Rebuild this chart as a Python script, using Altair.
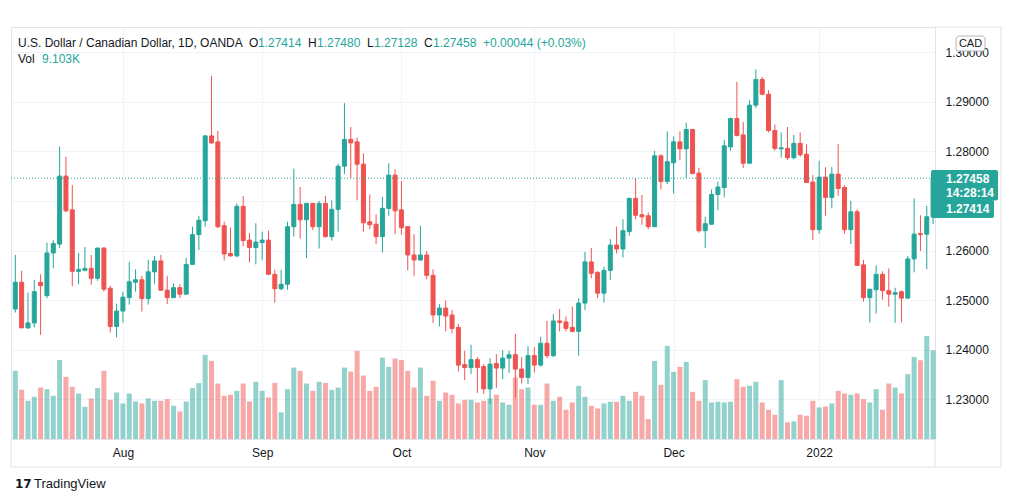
import altair as alt
import pandas as pd

# ---------------- data ----------------
opens = [1.2482, 1.2536, 1.2444, 1.2454, 1.2536, 1.2509, 1.2595, 1.2613, 1.2750, 1.2682,
         1.2558, 1.2560, 1.2564, 1.2544, 1.2605, 1.2524, 1.2447, 1.2478, 1.2505, 1.2536,
         1.2541, 1.2503, 1.2557, 1.2579, 1.2520, 1.2505, 1.2525, 1.2512, 1.2572, 1.2632,
         1.2660, 1.2831, 1.2819, 1.2650, 1.2594, 1.2589, 1.2689, 1.2621, 1.2606, 1.2616,
         1.2621, 1.2552, 1.2523, 1.2532, 1.2648, 1.2693, 1.2662, 1.2695, 1.2648, 1.2695,
         1.2628, 1.2683, 1.2770, 1.2824, 1.2819, 1.2774, 1.2658, 1.2653, 1.2628, 1.2685,
         1.2752, 1.2682, 1.2648, 1.2591, 1.2581, 1.2591, 1.2550, 1.2470, 1.2484, 1.2470,
         1.2445, 1.2370, 1.2364, 1.2380, 1.2366, 1.2321, 1.2372, 1.2363, 1.2383, 1.2390,
         1.2361, 1.2344, 1.2388, 1.2369, 1.2413, 1.2388, 1.2458, 1.2456, 1.2445, 1.2437,
         1.2494, 1.2577, 1.2556, 1.2514, 1.2560, 1.2611, 1.2603, 1.2638, 1.2705, 1.2672,
         1.2670, 1.2648, 1.2791, 1.2739, 1.2777, 1.2819, 1.2805, 1.2844, 1.2756, 1.2640,
         1.2653, 1.2713, 1.2727, 1.2809, 1.2866, 1.2833, 1.2776, 1.2893, 1.2945, 1.2915,
         1.2842, 1.2805, 1.2806, 1.2787, 1.2816, 1.2794, 1.2738, 1.2642, 1.2748, 1.2707,
         1.2754, 1.2727, 1.2642, 1.2678, 1.2571, 1.2505, 1.2521, 1.2552, 1.2519, 1.2512,
         1.2517, 1.2504, 1.2583, 1.2634, 1.2633, 1.2668]
highs = [1.2591, 1.2559, 1.2515, 1.2541, 1.2552, 1.2616, 1.2621, 1.2809, 1.2789, 1.2732,
         1.2595, 1.2607, 1.2591, 1.2605, 1.2606, 1.2529, 1.2493, 1.2517, 1.2577, 1.2562,
         1.2549, 1.2581, 1.2589, 1.2591, 1.2549, 1.2534, 1.2532, 1.2585, 1.2648, 1.2670,
         1.2833, 1.2952, 1.2841, 1.2658, 1.2646, 1.2695, 1.2710, 1.2635, 1.2655, 1.2638,
         1.2640, 1.2561, 1.2561, 1.2658, 1.2765, 1.2728, 1.2696, 1.2696, 1.2700, 1.2710,
         1.2701, 1.2775, 1.2897, 1.2849, 1.2828, 1.2796, 1.2713, 1.2673, 1.2708, 1.2776,
         1.2764, 1.2740, 1.2649, 1.2633, 1.2650, 1.2599, 1.2562, 1.2492, 1.2499, 1.2480,
         1.2452, 1.2398, 1.2410, 1.2385, 1.2371, 1.2383, 1.2391, 1.2399, 1.2398, 1.2432,
         1.2385, 1.2407, 1.2405, 1.2426, 1.2458, 1.2472, 1.2482, 1.2467, 1.2487, 1.2504,
         1.2597, 1.2605, 1.2558, 1.2568, 1.2623, 1.2648, 1.2663, 1.2707, 1.2746, 1.2712,
         1.2677, 1.2801, 1.2794, 1.2840, 1.2830, 1.2840, 1.2858, 1.2845, 1.2767, 1.2668,
         1.2723, 1.2739, 1.2823, 1.2868, 1.2940, 1.2859, 1.2903, 1.2965, 1.2950, 1.2923,
         1.2854, 1.2838, 1.2849, 1.2833, 1.2838, 1.2814, 1.2752, 1.2781, 1.2768, 1.2768,
         1.2815, 1.2732, 1.2700, 1.2683, 1.2581, 1.2522, 1.2570, 1.2558, 1.2564, 1.2525,
         1.2519, 1.2589, 1.2705, 1.2671, 1.2690, 1.2748]
lows = [1.2475, 1.2444, 1.2442, 1.2445, 1.2430, 1.2504, 1.2564, 1.2605, 1.2677, 1.2528,
        1.2532, 1.2558, 1.2531, 1.2539, 1.2517, 1.2435, 1.2425, 1.2455, 1.2491, 1.2517,
        1.2477, 1.2491, 1.2533, 1.2519, 1.2492, 1.2504, 1.2504, 1.2511, 1.2571, 1.2601,
        1.2648, 1.2815, 1.2645, 1.2580, 1.2588, 1.2587, 1.2608, 1.2576, 1.2572, 1.2581,
        1.2551, 1.2495, 1.2520, 1.2521, 1.2628, 1.2624, 1.2585, 1.2641, 1.2604, 1.2626,
        1.2620, 1.2638, 1.2754, 1.2746, 1.2701, 1.2638, 1.2643, 1.2613, 1.2596, 1.2670,
        1.2633, 1.2632, 1.2560, 1.2549, 1.2579, 1.2542, 1.2454, 1.2447, 1.2437, 1.2433,
        1.2356, 1.2339, 1.2351, 1.2313, 1.2311, 1.2290, 1.2323, 1.2341, 1.2353, 1.2303,
        1.2332, 1.2331, 1.2354, 1.2366, 1.2383, 1.2385, 1.2437, 1.2437, 1.2435, 1.2388,
        1.2480, 1.2544, 1.2504, 1.2495, 1.2541, 1.2594, 1.2586, 1.2630, 1.2663, 1.2652,
        1.2643, 1.2647, 1.2723, 1.2734, 1.2715, 1.2782, 1.2746, 1.2754, 1.2636, 1.2605,
        1.2652, 1.2681, 1.2707, 1.2801, 1.2830, 1.2766, 1.2775, 1.2887, 1.2913, 1.2838,
        1.2801, 1.2787, 1.2782, 1.2784, 1.2789, 1.2736, 1.2621, 1.2634, 1.2670, 1.2685,
        1.2710, 1.2634, 1.2613, 1.2569, 1.2497, 1.2455, 1.2473, 1.2501, 1.2487, 1.2454,
        1.2455, 1.2503, 1.2556, 1.2599, 1.2562, 1.2653]
closes = [1.2536, 1.2444, 1.2454, 1.2517, 1.2529, 1.2595, 1.2614, 1.2750, 1.2680, 1.2558,
          1.2562, 1.2564, 1.2544, 1.2605, 1.2522, 1.2447, 1.2478, 1.2506, 1.2537, 1.2541,
          1.2503, 1.2557, 1.2579, 1.2520, 1.2505, 1.2525, 1.2512, 1.2572, 1.2632, 1.2661,
          1.2831, 1.2817, 1.2648, 1.2593, 1.2589, 1.2689, 1.2620, 1.2606, 1.2617, 1.2621,
          1.2552, 1.2523, 1.2532, 1.2648, 1.2693, 1.2662, 1.2695, 1.2648, 1.2695, 1.2628,
          1.2683, 1.2770, 1.2824, 1.2817, 1.2774, 1.2656, 1.2652, 1.2628, 1.2685, 1.2752,
          1.2680, 1.2646, 1.2591, 1.2581, 1.2591, 1.2550, 1.2470, 1.2484, 1.2468, 1.2443,
          1.2369, 1.2364, 1.2380, 1.2364, 1.2321, 1.2371, 1.2363, 1.2383, 1.2390, 1.2361,
          1.2344, 1.2388, 1.2369, 1.2413, 1.2388, 1.2458, 1.2455, 1.2443, 1.2437, 1.2494,
          1.2577, 1.2554, 1.2514, 1.2560, 1.2611, 1.2603, 1.2640, 1.2705, 1.2671, 1.2668,
          1.2648, 1.2791, 1.2739, 1.2779, 1.2819, 1.2805, 1.2844, 1.2755, 1.2640, 1.2654,
          1.2713, 1.2728, 1.2811, 1.2866, 1.2832, 1.2776, 1.2893, 1.2945, 1.2915, 1.2842,
          1.2806, 1.2807, 1.2787, 1.2816, 1.2793, 1.2737, 1.2642, 1.2748, 1.2707, 1.2754,
          1.2725, 1.2642, 1.2678, 1.2570, 1.2505, 1.2522, 1.2552, 1.2519, 1.2512, 1.2515,
          1.2504, 1.2583, 1.2633, 1.2632, 1.2668, 1.27458]
volumes_k = [7.00, 5.05, 3.92, 4.33, 5.28, 5.11, 4.43, 8.11, 6.38, 5.35,
             4.67, 3.31, 4.16, 5.22, 7.00, 4.02, 4.77, 3.65, 4.67, 3.85,
             3.65, 4.16, 3.92, 3.92, 4.09, 3.41, 2.83, 3.85, 5.22, 5.73,
             8.63, 8.01, 5.69, 4.43, 4.54, 4.94, 5.69, 3.85, 5.87, 4.94,
             4.26, 5.76, 2.73, 5.11, 7.33, 6.99, 5.69, 4.94, 5.87, 5.76,
             5.05, 5.28, 7.33, 6.92, 9.04, 6.51, 4.94, 5.35, 8.35, 7.40,
             8.25, 8.11, 6.99, 5.28, 7.33, 4.43, 5.97, 3.92, 4.77, 4.54,
             3.65, 4.02, 4.02, 3.75, 3.92, 4.16, 4.54, 3.75, 3.51, 6.31,
             5.11, 5.28, 3.51, 3.51, 5.69, 3.92, 4.33, 3.00, 3.75, 5.46,
             4.33, 3.41, 3.14, 3.65, 3.82, 3.82, 4.43, 3.92, 4.84, 4.43,
             2.05, 8.01, 5.56, 9.55, 6.89, 7.40, 7.91, 4.84, 3.92, 6.04,
             3.75, 3.82, 3.75, 3.82, 6.14, 5.35, 5.46, 5.87, 3.75, 3.00,
             2.49, 6.04, 1.71, 1.81, 2.49, 2.39, 3.92, 3.24, 3.34, 3.65,
             4.94, 4.67, 4.54, 4.67, 4.09, 3.75, 5.11, 3.00, 5.69, 5.28,
             4.67, 6.65, 8.42, 8.08, 10.57, 9.103]

price_ticks = [1.23, 1.24, 1.25, 1.26, 1.27, 1.28, 1.29, 1.30]
last_price = 1.27458
header_title = "U.S. Dollar / Canadian Dollar, 1D, OANDA"
header_values = [("O", "1.27414"), ("H", "1.27480"), ("L", "1.27128"), ("C", "1.27458")]
header_change = "+0.00044 (+0.03%)"
vol_label = "9.103K"
countdown = "14:28:14"
second_label = "1.27414"

# ---------------- styling ----------------
TEAL = "#26a69a"
RED = "#ef5350"
TXT = "#131722"
GRID = "#f0f3fa"
BORDER = "#e0e3eb"
FONT = "Liberation Sans"
W, H = 924, 412

n = len(closes)
dates = pd.bdate_range("2021-07-08", periods=n)
df = pd.DataFrame({
    "i": list(range(n)),
    "date": dates.strftime("%Y-%m-%d"),
    "O": opens, "H": highs, "L": lows, "C": closes, "V": volumes_k,
})
df["dir"] = ["up" if c >= o else "down" for o, c in zip(opens, closes)]

tick_idx = [i for i in range(1, n) if dates[i].month != dates[i - 1].month]
tick_lab = [str(dates[i].year) if dates[i].month == 1 else dates[i].strftime("%b") for i in tick_idx]
label_expr = "".join(f"datum.value == {i} ? '{l}' : " for i, l in zip(tick_idx, tick_lab)) + "''"

xaxis = alt.Axis(values=tick_idx, labelExpr=label_expr, grid=True, gridColor=GRID,
                 ticks=False, domain=False, labelPadding=8, labelFontSize=12,
                 labelColor=TXT, labelFont=FONT, title=None, labelFlush=False)
xscale = alt.Scale(domain=[-0.68, 145.3], nice=False, zero=False, padding=0)
xenc = alt.X("i:Q", scale=xscale, axis=xaxis)

pscale = alt.Scale(domain=[1.2220, 1.30506], nice=False, zero=False, padding=0)
paxis = alt.Axis(orient="right", values=price_ticks, format=".5f", grid=True,
                 gridColor=GRID, ticks=False, domain=False, labelPadding=10,
                 labelFontSize=12, labelColor=TXT, labelFont=FONT, title=None)
cscale = alt.Scale(domain=["up", "down"], range=[TEAL, RED])

base = alt.Chart(df)

volume = base.mark_bar(width=5, opacity=0.5).encode(
    x=xenc,
    y=alt.Y("V:Q", scale=alt.Scale(domain=[0, 42.28], nice=False, padding=0), axis=None),
    color=alt.Color("dir:N", scale=cscale, legend=None),
)

wick = base.mark_rule(strokeWidth=1).encode(
    x=xenc,
    y=alt.Y("L:Q", scale=pscale, axis=paxis),
    y2="H:Q",
    color=alt.Color("dir:N", scale=cscale, legend=None),
)

body = base.mark_bar(width=4, strokeWidth=1).encode(
    x=xenc,
    y=alt.Y("O:Q", scale=pscale, axis=paxis),
    y2="C:Q",
    color=alt.Color("dir:N", scale=cscale, legend=None),
    stroke=alt.Stroke("dir:N", scale=cscale, legend=None),
)

last_line = alt.Chart(pd.DataFrame({"p": [last_price]})).mark_rule(
    color=TEAL, strokeDash=[1, 2], strokeWidth=1
).encode(y=alt.Y("p:Q", scale=pscale, axis=paxis), x=alt.value(0), x2=alt.value(920))

price_layer = alt.layer(wick, body, last_line)


def one(row=None):
    return alt.Chart(pd.DataFrame([row or {"k": 0}]))


def txt(s, x, y, color=TXT, size=12, weight="normal", align="left", font=FONT):
    return one({"t": s}).mark_text(
        align=align, baseline="middle", fontSize=size, fontWeight=weight, color=color, font=font
    ).encode(text="t:N", x=alt.value(x), y=alt.value(y))


def rule(x, x2, y, y2, color=BORDER):
    return one().mark_rule(color=color, strokeWidth=1).encode(
        x=alt.value(x), x2=alt.value(x2), y=alt.value(y), y2=alt.value(y2))


def box(x, x2, y, y2, fill, stroke=None, radius=2):
    kw = dict(color=fill, cornerRadius=radius)
    if stroke:
        kw.update(stroke=stroke, strokeWidth=1)
    return one().mark_rect(**kw).encode(
        x=alt.value(x), x2=alt.value(x2), y=alt.value(y), y2=alt.value(y2))


# header legend texts (pixel positions relative to the plot origin)
deco = [txt(header_title, 7, 16)]
xpos = [238, 297, 356, 413]
for (k, v), xp in zip(header_values, xpos):
    deco.append(txt(k, xp, 16))
    deco.append(txt(v, xp + (9 if k in "OHC" else 7), 16, color=TEAL))
deco.append(txt(header_change, 472, 16, color=TEAL))
deco.append(txt("Vol", 7, 32))
deco.append(txt(vol_label, 31, 32, color=TEAL))

# frame lines
deco += [
    rule(0, 0, 412, 440),
    rule(0, 990, 440, 440),
    rule(990, 990, 0, 440),
    rule(924, 924, 412, 440),
    rule(924, 990, 0, 0),
]

# last-price label boxes on the price scale
deco += [
    box(920, 987, 143, 173.5, TEAL),
    box(920, 983, 173, 191, TEAL),
    txt("1.27458", 935, 152, color="white", weight="bold"),
    txt(countdown, 935, 165.5, color="white", weight="bold"),
    txt(second_label, 935, 182, color="white", weight="bold"),
]

# currency box
deco += [
    box(945, 974, 9, 24, "white", stroke="#b2b5be", radius=3),
    txt("CAD", 959.5, 16.5, size=11, align="center"),
]

# TradingView logo
deco += [
    txt("17", 4, 457, size=12, weight="bold", font="DejaVu Sans"),
    txt("TradingView", 23, 457, size=13),
]

chart = alt.layer(volume, price_layer, *deco).resolve_scale(y="independent").properties(
    width=W, height=H, padding={"left": 2, "top": 18, "right": 0, "bottom": 0},
    background="white",
).configure_view(stroke=BORDER, strokeWidth=1)

chart.save("out.html", embed_options={"renderer": "svg", "actions": False})
